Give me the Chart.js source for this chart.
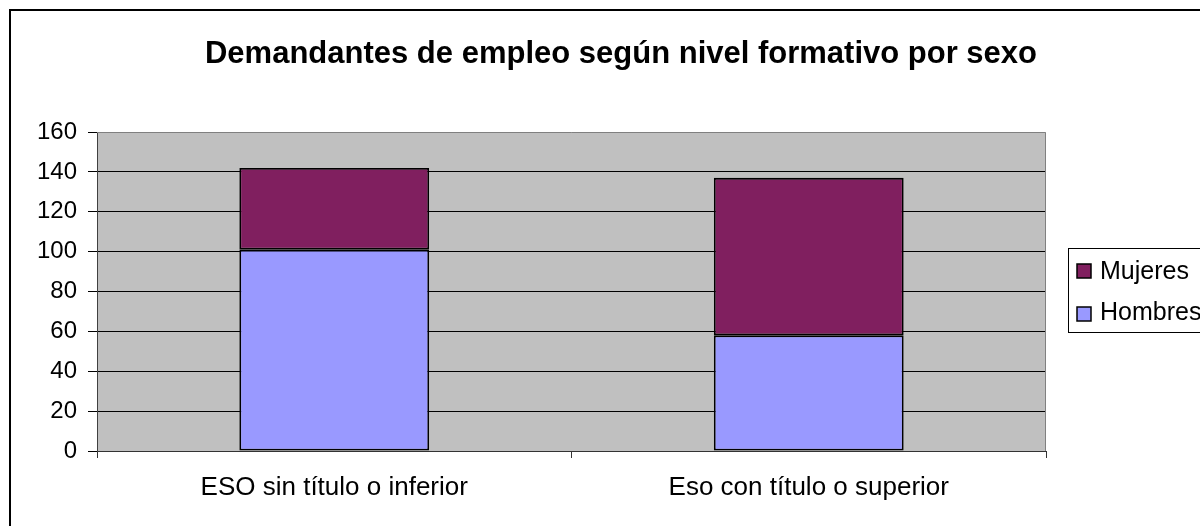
<!DOCTYPE html>
<html>
<head>
<meta charset="utf-8">
<script src="https://cdn.jsdelivr.net/npm/chart.js@4/dist/chart.umd.min.js"></script>
<style>
  html, body { margin: 0; padding: 0; background: #fff; overflow: hidden; }
  #wrap { width: 1242px; height: 526px; }
</style>
</head>
<body>
<div id="wrap"><canvas id="chart"></canvas></div>
<script>
const titleText = "Demandantes de empleo según nivel formativo por sexo";
const categories = ["ESO sin título o inferior", "Eso con título o superior"];
const hombres = [101, 58];
const mujeres = [41, 79];
const yTicks = { min: 0, max: 160, step: 20 };

const FONT = '"Liberation Sans", Arial, sans-serif';
const W = 1242;
const H = 526;

// Background, outer frame, grey plot area and title
const frame = {
  id: "frame",
  beforeDraw(chart) {
    const { ctx, chartArea: a } = chart;
    ctx.save();
    ctx.fillStyle = "#ffffff";
    ctx.fillRect(0, 0, W, H);
    ctx.strokeStyle = "#000000";
    ctx.lineWidth = 2;
    ctx.strokeRect(10, 10, W - 20, H + 20);
    ctx.fillStyle = "#c0c0c0";
    ctx.fillRect(a.left, a.top, a.right - a.left, a.bottom - a.top);
    ctx.fillStyle = "#000000";
    ctx.font = `bold 31px ${FONT}`;
    ctx.textAlign = "center";
    ctx.textBaseline = "alphabetic";
    ctx.fillText(titleText, 621, 63);
    ctx.restore();
  },
  afterDraw(chart) {
    const { ctx, chartArea: a } = chart;
    ctx.save();
    // plot border on top and right
    ctx.strokeStyle = "#808080";
    ctx.lineWidth = 1;
    ctx.beginPath();
    ctx.moveTo(a.left, a.top + 0.5);
    ctx.lineTo(a.right - 0.5, a.top + 0.5);
    ctx.lineTo(a.right - 0.5, a.bottom);
    ctx.stroke();

    // legend (Mujeres listed first, as in the original)
    const bx = 1068, by = 248, bw = 150, bh = 84;
    ctx.fillStyle = "#ffffff";
    ctx.fillRect(bx, by, bw, bh);
    ctx.strokeStyle = "#000000";
    ctx.lineWidth = 1;
    ctx.strokeRect(bx + 0.5, by + 0.5, bw, bh);
    const items = chart.data.datasets.slice().reverse();
    ctx.font = `25px ${FONT}`;
    ctx.textAlign = "left";
    ctx.textBaseline = "alphabetic";
    items.forEach((ds, i) => {
      const sy = by + 16 + i * 43;
      ctx.fillStyle = ds.backgroundColor;
      ctx.fillRect(bx + 9, sy, 14, 14);
      ctx.strokeStyle = "#000000";
      ctx.lineWidth = 1.5;
      ctx.strokeRect(bx + 9, sy, 14, 14);
      ctx.fillStyle = "#000000";
      ctx.fillText(ds.label, bx + 32, by + 31 + i * 41);
    });
    ctx.restore();
  },
};

const canvas = document.getElementById("chart");
canvas.width = W;
canvas.height = H;
canvas.style.width = W + "px";
canvas.style.height = H + "px";

new Chart(canvas, {
  type: "bar",
  data: {
    labels: categories,
    datasets: [
      {
        label: "Hombres",
        data: hombres,
        backgroundColor: "#9999ff",
        borderColor: "#000000",
        borderWidth: 1.8,
        borderSkipped: false,
        categoryPercentage: 1,
        barPercentage: 0.4,
      },
      {
        label: "Mujeres",
        data: mujeres,
        backgroundColor: "#801f5f",
        borderColor: "#000000",
        borderWidth: 1.8,
        borderSkipped: false,
        categoryPercentage: 1,
        barPercentage: 0.4,
      },
    ],
  },
  options: {
    responsive: false,
    animation: false,
    layout: { padding: { top: 132, right: W - 1046, bottom: 0, left: 0 } },
    plugins: {
      legend: { display: false },
      title: { display: false },
      tooltip: { enabled: false },
    },
    scales: {
      x: {
        stacked: true,
        afterFit(scale) { scale.height = 75; },
        grid: {
          display: true,
          drawOnChartArea: false,
          color: "#333333",
          tickLength: 7,
          offset: true,
        },
        border: { color: "#333333", width: 1 },
        ticks: {
          color: "#000000",
          font: { family: FONT, size: 26 },
          padding: 14,
          maxRotation: 0,
        },
      },
      y: {
        stacked: true,
        min: yTicks.min,
        max: yTicks.max,
        afterFit(scale) { scale.width = 97; },
        grid: {
          color: (c) => (c.tick && c.tick.value === yTicks.max ? "rgba(0,0,0,0)" : "#000000"),
          tickColor: "#000000",
          lineWidth: 1,
          tickLength: 9,
        },
        border: { color: "#404040", width: 1 },
        ticks: {
          stepSize: yTicks.step,
          color: "#000000",
          font: { family: FONT, size: 24 },
          padding: 11,
        },
      },
    },
  },
  plugins: [frame],
});
</script>
</body>
</html>
